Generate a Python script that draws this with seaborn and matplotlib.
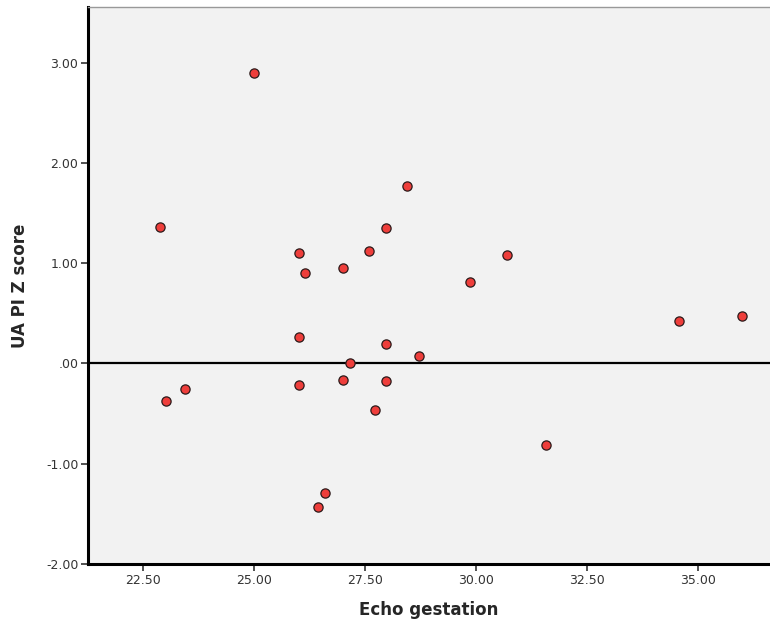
import matplotlib
matplotlib.use("Agg")
import matplotlib.pyplot as plt
import seaborn as sns
import pandas as pd

# Data
echo_gestation = [25.00, 22.87, 23.00, 23.44, 26.00, 26.15, 26.00, 26.00,
                  26.58, 26.43, 27.00, 27.00, 27.15, 27.58, 27.72, 27.97,
                  27.97, 27.97, 28.43, 28.71, 29.86, 30.70, 31.57, 34.56, 36.00]
ua_pi_z = [2.90, 1.36, -0.375, -0.25, 1.10, 0.90, 0.26, -0.21,
           -1.29, -1.43, 0.95, -0.16, 0.00, 1.125, -0.46, 1.35,
           0.19, -0.17, 1.77, 0.07, 0.81, 1.086, -0.81, 0.425, 0.47]

x_ticks = [22.5, 25.0, 27.5, 30.0, 32.5, 35.0]
x_tick_labels = ["22.50", "25.00", "27.50", "30.00", "32.50", "35.00"]
y_ticks = [-2, -1, 0, 1, 2, 3]
y_tick_labels = ["-2.00", "-1.00", ".00", "1.00", "2.00", "3.00"]

df = pd.DataFrame({"Echo gestation": echo_gestation, "UA PI Z score": ua_pi_z})

sns.set_style("white")
plt.rcParams["font.family"] = ["DejaVu Sans"]

fig = plt.figure(figsize=(7.7, 6.27), dpi=100)
ax = fig.add_axes([88 / 770, 63 / 627, 1 - 88 / 770, (564 - 7) / 627])
ax.set_facecolor("#F2F2F2")

ax.axhline(0, color="black", lw=1.6, zorder=1)
sns.scatterplot(data=df, x="Echo gestation", y="UA PI Z score", ax=ax,
                color="#EE3E3B", edgecolor="#2b1a1a", linewidth=0.9,
                s=44, zorder=3)

ax.set_xlim(21.25, 36.62)
ax.set_ylim(-2.0, 3.555)
ax.set_xticks(x_ticks)
ax.set_xticklabels(x_tick_labels)
ax.set_yticks(y_ticks)
ax.set_yticklabels(y_tick_labels)

for side in ["left", "bottom"]:
    ax.spines[side].set_linewidth(2.2)
    ax.spines[side].set_color("black")
ax.spines["top"].set_linewidth(1.0)
ax.spines["top"].set_color("#999999")
ax.spines["right"].set_visible(False)

ax.tick_params(axis="both", which="major", direction="out", length=5, width=1.2,
               color="#333333", labelsize=9, labelcolor="#333333", pad=2,
               left=True, bottom=True)

ax.set_xlabel("Echo gestation", fontsize=12, fontweight="bold", labelpad=10)
ax.set_ylabel("UA PI Z score", fontsize=12, fontweight="bold", labelpad=12)

fig.savefig("out.png", dpi=100)
